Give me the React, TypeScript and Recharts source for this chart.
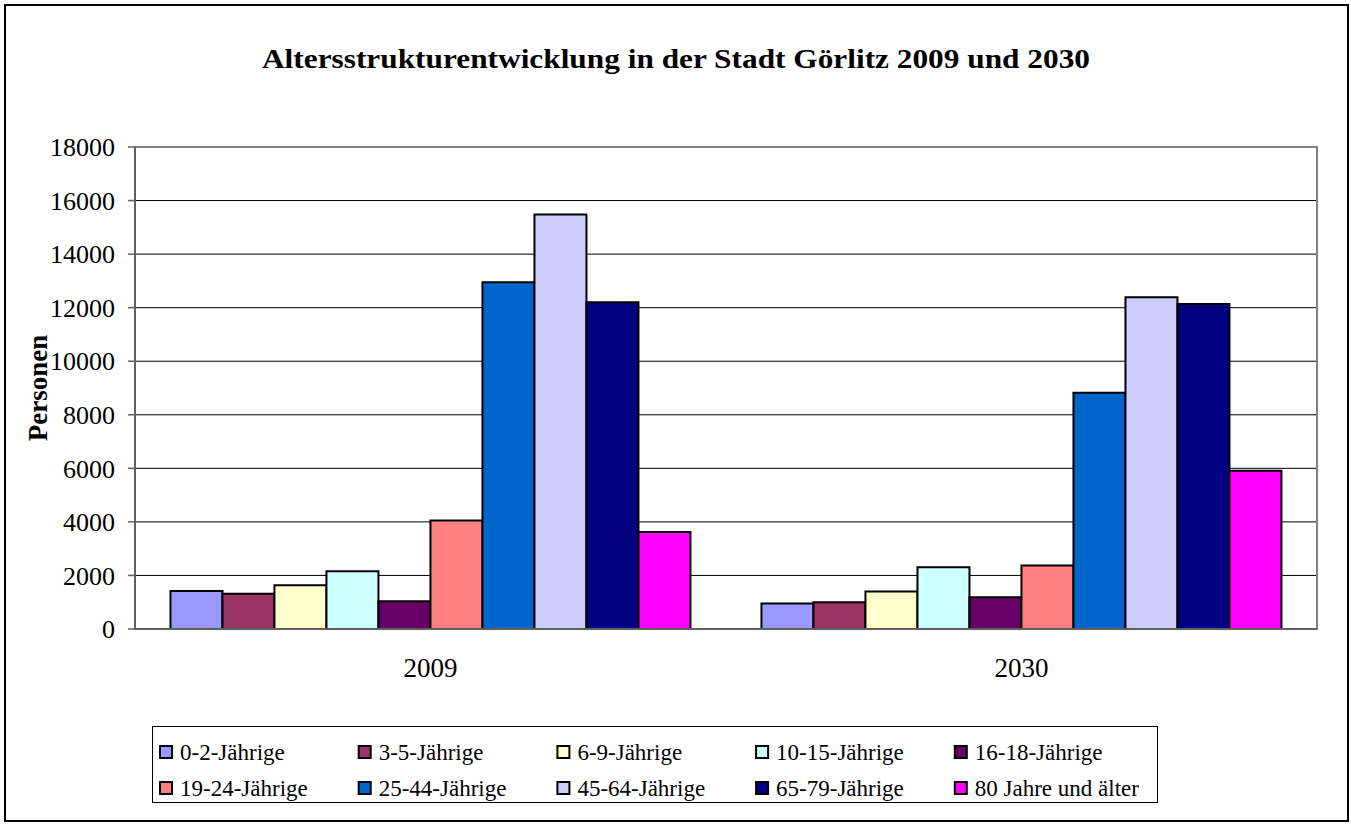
import React from 'react';
import { BarChart, Bar, XAxis, YAxis, CartesianGrid, Legend, ReferenceArea } from 'recharts';

const years = ['2009', '2030'];
const ageGroups = [
  '0-2-J\u00e4hrige',
  '3-5-J\u00e4hrige',
  '6-9-J\u00e4hrige',
  '10-15-J\u00e4hrige',
  '16-18-J\u00e4hrige',
  '19-24-J\u00e4hrige',
  '25-44-J\u00e4hrige',
  '45-64-J\u00e4hrige',
  '65-79-J\u00e4hrige',
  '80 Jahre und \u00e4lter',
];
const values2009 = [1420, 1320, 1630, 2160, 1040, 4050, 12950, 15480, 12200, 3620];
const values2030 = [950, 1000, 1400, 2310, 1190, 2370, 8820, 12390, 12140, 5910];
const colors = ['#9999FF', '#993366', '#FFFFCC', '#CCFFFF', '#660066', '#FF8080', '#0066CC', '#CCCCFF', '#000080', '#FF00FF'];
const yTicks = [0, 2000, 4000, 6000, 8000, 10000, 12000, 14000, 16000, 18000];
const title = 'Altersstrukturentwicklung in der Stadt G\u00f6rlitz 2009 und 2030';
const yLabel = 'Personen';

const seriesValues = [values2009, values2030];
const data = years.map((y, i) => {
  const row: Record<string, string | number> = { year: y };
  ageGroups.forEach((g, j) => {
    row[g] = seriesValues[i][j];
  });
  return row;
});

const FONT = "'Liberation Serif', Tinos, 'Times New Roman', Times, 'DejaVu Serif', serif";

const LEG_W = 1006;
const LEG_H = 77;
const LEG_COL = 198.7;
const LEG_ROWS = [25, 61];

const LegendContent = () => {
  return (
    <svg width={LEG_W} height={LEG_H} style={{ display: 'block' }}>
      {ageGroups.map((g, j) => {
        const col = j % 5;
        const row = Math.floor(j / 5);
        const x = 6 + col * LEG_COL;
        const cy = LEG_ROWS[row];
        return (
          <g key={g}>
            <rect x={x + 1} y={cy - 6} width={12} height={12} fill={colors[j]} stroke="#000" strokeWidth={2} />
            <text
              x={x + 21}
              y={cy}
              dominantBaseline="central"
              fontFamily={FONT}
              fontSize={23}
              fill="#000"
            >
              {g}
            </text>
          </g>
        );
      })}
    </svg>
  );
};

const YLabel = (props: any) => {
  const vb = props.viewBox || { x: 0, y: 0, width: 0, height: 0 };
  const cy = vb.y + vb.height / 2;
  const cx = 38;
  return (
    <text
      x={cx}
      y={cy}
      transform={`rotate(-90, ${cx}, ${cy})`}
      textAnchor="middle"
      dominantBaseline="central"
      fontFamily={FONT}
      fontWeight="bold"
      fontSize={27}
      fill="#000"
    >
      {yLabel}
    </text>
  );
};

export default function App() {
  return (
    <div style={{ position: 'absolute', left: 0, top: 0, width: 1351, height: 825, background: '#fff' }}>
      <div
        style={{
          position: 'absolute',
          left: 4,
          top: 4,
          width: 1345,
          height: 818,
          border: '2px solid #000',
          boxSizing: 'border-box',
        }}
      />
      <svg width={1351} height={100} style={{ position: 'absolute', left: 0, top: 0 }}>
        <text
          x={262}
          y={68}
          textLength={828}
          lengthAdjust="spacingAndGlyphs"
          fontFamily={FONT}
          fontWeight="bold"
          fontSize={28}
          fill="#000"
        >
          {title}
        </text>
      </svg>
      <div style={{ position: 'absolute', left: 0, top: 0 }}>
        <BarChart
          width={1351}
          height={825}
          data={data}
          margin={{ top: 147, right: 34, bottom: 194, left: 0 }}
          barCategoryGap="6%"
          barGap={0}
        >
          <CartesianGrid vertical={false} stroke="#000" strokeWidth={1} />
          <ReferenceArea y1={0} y2={18000} fill="none" stroke="#808080" strokeWidth={2} ifOverflow="visible" />
          <XAxis
            dataKey="year"
            xAxisId="cat"
            height={1}
            tickLine={false}
            tickSize={0}
            tickMargin={29}
            axisLine={{ stroke: '#606060', strokeWidth: 2 }}
            tick={{ fontFamily: FONT, fontSize: 27, fill: '#000' }}
            interval={0}
          />
          <XAxis
            xAxisId="marks"
            type="number"
            domain={[0, 2]}
            ticks={[0, 1, 2]}
            height={1}
            tick={false}
            tickSize={7}
            tickLine={{ stroke: '#606060', strokeWidth: 1.5 }}
            axisLine={false}
          />
          <YAxis
            domain={[0, 18000]}
            ticks={yTicks}
            width={135}
            interval={0}
            tickSize={7}
            tickMargin={13}
            tickLine={{ stroke: '#606060', strokeWidth: 1.5 }}
            axisLine={{ stroke: '#606060', strokeWidth: 2 }}
            tick={{ fontFamily: FONT, fontSize: 26, fill: '#000' }}
            label={<YLabel />}
          />
          <Legend
            layout="horizontal"
            verticalAlign="middle"
            align="center"
            content={<LegendContent />}
            wrapperStyle={{
              position: 'absolute',
              left: 152,
              top: 726,
              width: LEG_W,
              height: LEG_H,
              border: '1.5px solid #000',
              boxSizing: 'border-box',
              background: '#fff',
              overflow: 'hidden',
            }}
          />
          {ageGroups.map((g, j) => (
            <Bar
              key={g}
              dataKey={g}
              xAxisId="cat"
              fill={colors[j]}
              stroke="#000"
              strokeWidth={2}
              isAnimationActive={false}
            />
          ))}
        </BarChart>
      </div>
    </div>
  );
}
